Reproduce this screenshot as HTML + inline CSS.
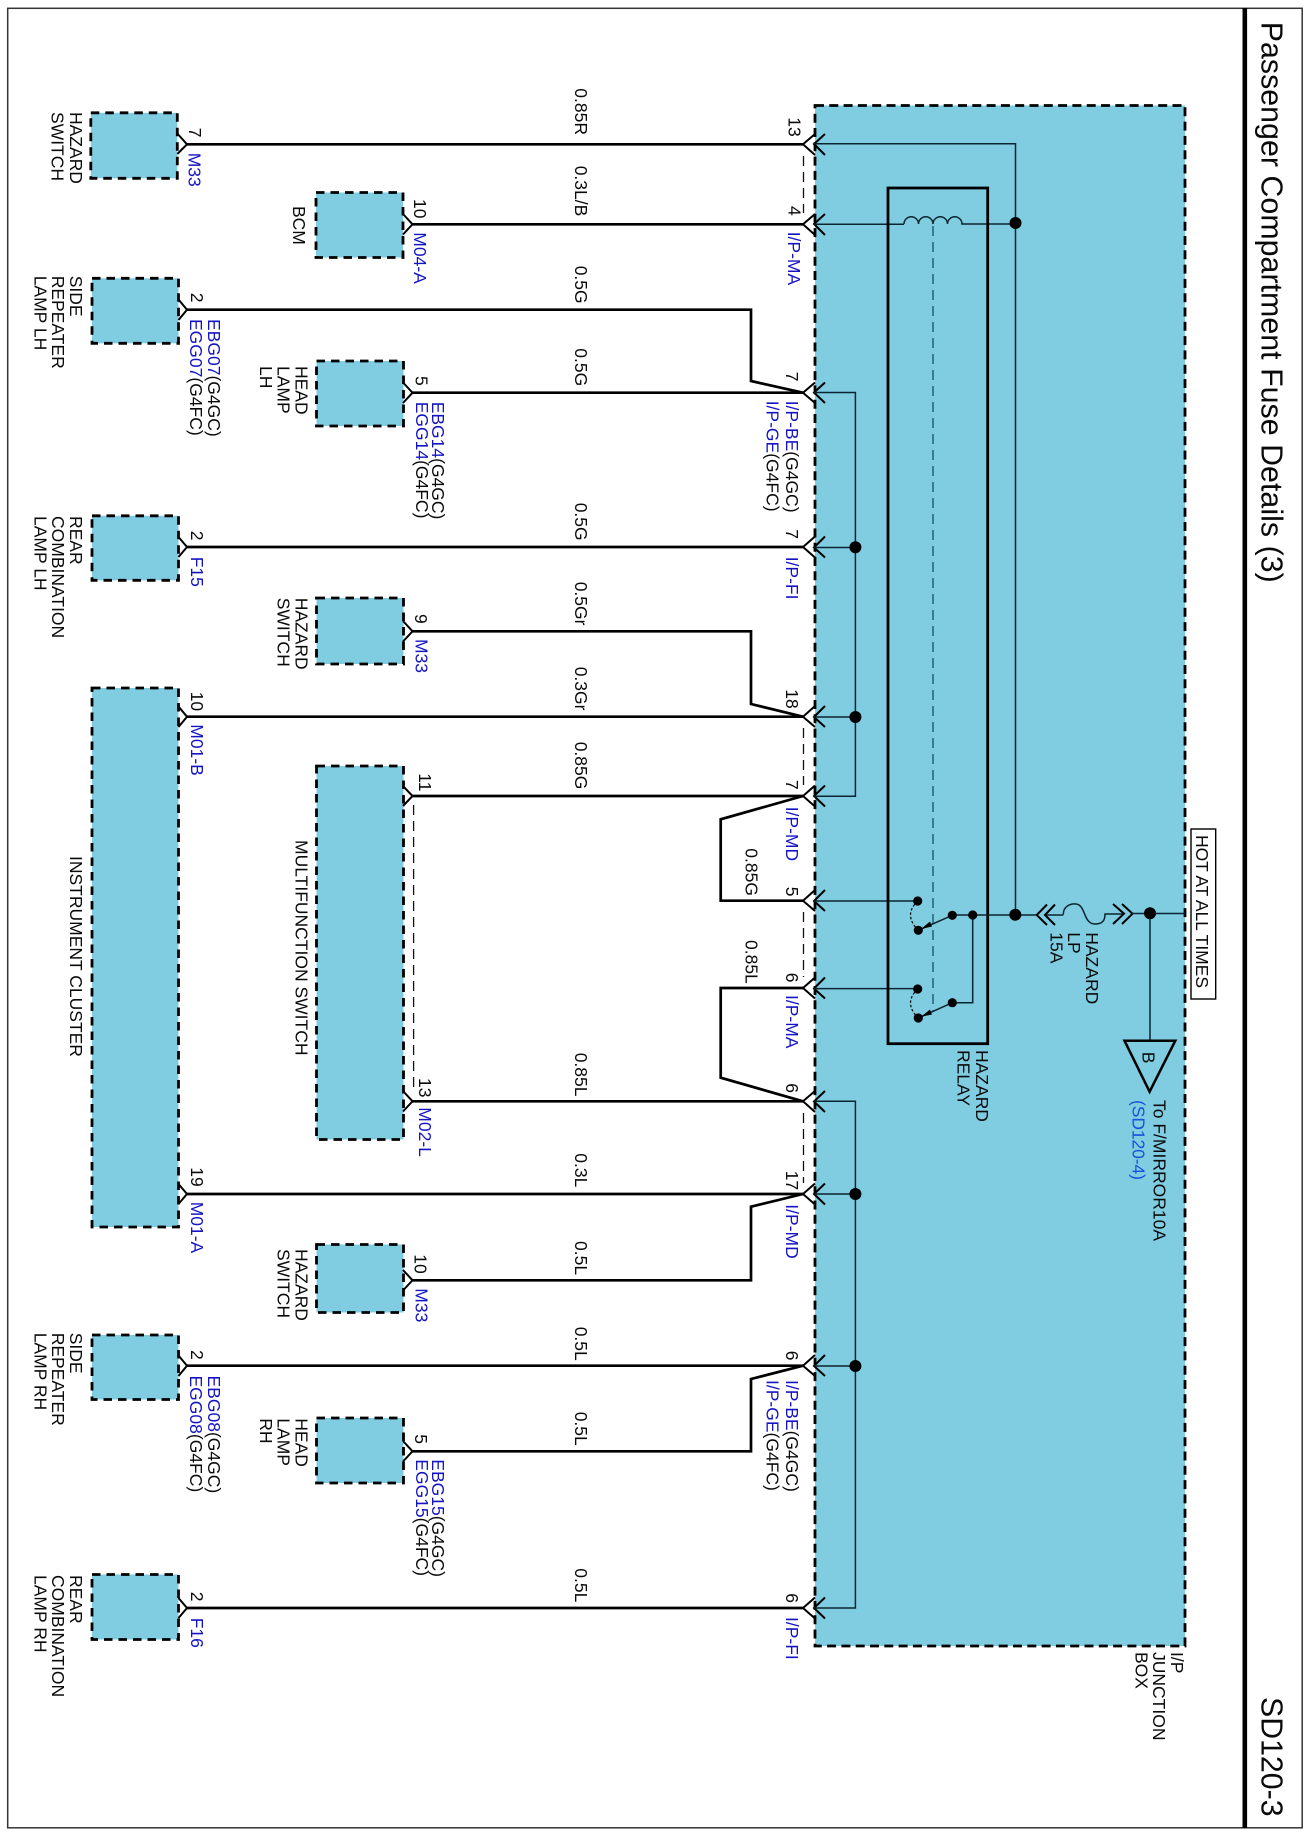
<!DOCTYPE html>
<html>
<head>
<meta charset="utf-8">
<style>
html,body{margin:0;padding:0;background:#fff}
svg{display:block}
text{font-family:"Liberation Sans",Arial,sans-serif;font-size:17.5px;fill:#0a0a0a}
.b{fill:#1414c4}
.c{fill:#1a4fd8}
.t{font-size:30.3px}
.box{fill:#80cde2;stroke:#000;stroke-width:2.8;stroke-dasharray:8.5 6}
.th{fill:none;stroke:#000;stroke-width:2.7;stroke-linejoin:miter}
.tn{fill:none;stroke:#0b2530;stroke-width:1.5}
.ch{fill:none;stroke:#000;stroke-width:2}
.ds{fill:none;stroke:#111;stroke-width:1.3;stroke-dasharray:10 6}
</style>
</head>
<body>
<svg width="1308" height="1836" viewBox="0 0 1308 1836" xmlns="http://www.w3.org/2000/svg">
<rect x="0" y="0" width="1308" height="1836" fill="#fff"/>
<rect x="7.7" y="8.3" width="1294.5" height="1819.5" fill="none" stroke="#333" stroke-width="1.5"/>
<rect x="1242.5" y="8" width="4.6" height="1820" fill="#000"/>

<!-- junction box -->
<rect x="815" y="105.5" width="370" height="1540.5" fill="#80cde2" stroke="#000" stroke-width="2.8" stroke-dasharray="9 5.3"/>

<!-- left components -->
<rect class="box" x="90.8" y="112.8" width="86.5" height="65.5"/>
<rect class="box" x="92" y="278.3" width="86.5" height="65"/>
<rect class="box" x="92" y="515.8" width="86.5" height="64.5"/>
<rect class="box" x="92" y="688" width="86.5" height="539"/>
<rect class="box" x="92" y="1335" width="86.5" height="64.5"/>
<rect class="box" x="92" y="1574.5" width="86.5" height="65"/>
<rect class="box" x="316" y="192.5" width="87" height="65"/>
<rect class="box" x="316.5" y="361" width="87" height="65"/>
<rect class="box" x="316.5" y="598" width="87" height="66"/>
<rect class="box" x="316.5" y="766" width="87" height="373.5"/>
<rect class="box" x="316.5" y="1244.5" width="87" height="68"/>
<rect class="box" x="316.5" y="1418" width="87" height="65"/>

<!-- thick wires -->
<path class="th" d="M187 144.3H803"/>
<path class="th" d="M412 224.3H803"/>
<path class="th" d="M187 309.7H751V381L803 392.7"/>
<path class="th" d="M412 392.7H803"/>
<path class="th" d="M187 547H803"/>
<path class="th" d="M412 631.3H751V704L803 716.7"/>
<path class="th" d="M187 716.7H803"/>
<path class="th" d="M412 796H803"/>
<path class="th" d="M803 796L720.7 819.3V900.7H803"/>
<path class="th" d="M803 988H720.7V1077.7L803 1101.3"/>
<path class="th" d="M412 1101.3H803"/>
<path class="th" d="M187 1194H803"/>
<path class="th" d="M412 1280.3H751V1206.7L803 1194"/>
<path class="th" d="M187 1365.7H803"/>
<path class="th" d="M412 1451.3H751V1379L803 1365.7"/>
<path class="th" d="M187 1608H803"/>

<!-- left chevrons -->
<path class="ch" d="M177.3 133.5L187 144.3L177.3 154"/>
<path class="ch" d="M178.5 299.5L187 309.7L178.5 320"/>
<path class="ch" d="M178.5 537L187 547L178.5 557"/>
<path class="ch" d="M178.5 706.5L187 716.7L178.5 727"/>
<path class="ch" d="M178.5 1184L187 1194L178.5 1204"/>
<path class="ch" d="M178.5 1355.5L187 1365.7L178.5 1376"/>
<path class="ch" d="M178.5 1598L187 1608L178.5 1618"/>
<path class="ch" d="M403 214L412.5 224.3L403 234.5"/>
<path class="ch" d="M403 382.5L412.5 392.7L403 403"/>
<path class="ch" d="M403 621L412.5 631.3L403 641.5"/>
<path class="ch" d="M403 786L412.5 796L403 806"/>
<path class="ch" d="M403 1091L412.5 1101.3L403 1111.5"/>
<path class="ch" d="M403 1270L412.5 1280.3L403 1290.5"/>
<path class="ch" d="M403 1441L412.5 1451.3L403 1461.5"/>

<!-- right chevrons: outer + inner -->
<path class="ch" d="M815 134L803 144.3L815 155M825 134L814 144L825 155"/>
<path class="ch" d="M815 214L803 224.3L815 235M825 214L814 224L825 235"/>
<path class="ch" d="M815 382.5L803 392.7L815 403M825 382.5L814 392.5L825 403"/>
<path class="ch" d="M815 536.5L803 547L815 557.5M825 536.5L814 547.5L825 557.5"/>
<path class="ch" d="M815 706L803 716.7L815 727M825 706L814 717L825 727"/>
<path class="ch" d="M815 785.5L803 796L815 806.5M825 785.5L814 796L825 806.5"/>
<path class="ch" d="M815 890L803 900.7L815 911M825 890L814 901L825 911"/>
<path class="ch" d="M815 977.5L803 988L815 998.5M825 977.5L814 988.5L825 998.5"/>
<path class="ch" d="M815 1091L803 1101.3L815 1112M825 1091L814 1101.5L825 1112"/>
<path class="ch" d="M815 1183.5L803 1194L815 1204.5M825 1183.5L814 1194L825 1204.5"/>
<path class="ch" d="M815 1355L803 1365.7L815 1376M825 1355L814 1366L825 1376"/>
<path class="ch" d="M815 1597.5L803 1608L815 1618.5M825 1597.5L814 1608L825 1618.5"/>

<!-- connector dashed links -->
<path class="ds" d="M803.5 156V213"/>
<path class="ds" d="M803.5 728V785"/>
<path class="ds" d="M803.5 912V977"/>
<path class="ds" d="M803.5 1113V1183"/>
<path class="ds" d="M413.6 805V1090"/>

<!-- inner thin wires -->
<path class="tn" d="M814 143.8H1015.5V915"/>
<path class="tn" d="M814 224.3H904"/>
<path class="tn" d="M904 224A7.25 7.25 0 0 1 918.5 224A7.25 7.25 0 0 1 933 224A7.25 7.25 0 0 1 947.5 224A7.25 7.25 0 0 1 962 224H1015.5"/>
<path class="tn" d="M814 392.5H855.4V796.3H814"/>
<path class="tn" d="M814 547.5H855.4"/>
<path class="tn" d="M814 717H855.4"/>
<path class="tn" d="M814 1101.3H855.4V1608H814"/>
<path class="tn" d="M814 1194H855.4"/>
<path class="tn" d="M814 1366H855.4"/>
<path class="tn" d="M814 901H917.7"/>
<path class="tn" d="M814 988.6H917.7"/>

<!-- relay -->
<rect x="888" y="188" width="99.7" height="855.7" fill="none" stroke="#000" stroke-width="2.8"/>
<path fill="none" stroke="#1c5a72" stroke-width="1.4" stroke-dasharray="10 6" d="M933 226V1012"/>

<!-- switches -->
<path class="tn" d="M952.3 915.3L918.3 930.3"/>
<path class="tn" d="M952.3 1002.7L918.3 1018"/>
<polygon points="921,929 930,921.5 932,926.5" fill="#000"/>
<polygon points="921,1016.8 930,1009.5 932,1014.5" fill="#000"/>
<path fill="none" stroke="#000" stroke-width="1.2" stroke-dasharray="2.5 2" d="M917.7 901Q903 915 918.3 930.3"/>
<path fill="none" stroke="#000" stroke-width="1.2" stroke-dasharray="2.5 2" d="M917.7 989Q903 1003 918.3 1018"/>
<path class="tn" d="M952.3 915H1036.7"/>
<path class="tn" d="M972.7 915V1002.7H952.3"/>
<path class="tn" d="M1045 915H1063.3"/>
<path class="ch" d="M1047 904.5L1036.7 915L1047 925M1055 904.5L1045 915L1055 925"/>
<path class="tn" d="M1063.3 914.7C1063 906 1071 903.5 1076 904C1086 905 1083 924 1095 924C1103 924 1105 920 1105 914H1124"/>
<path class="ch" d="M1113 904L1124 913.7L1113 924M1122 904L1132.5 913.7L1122 924"/>
<path class="tn" d="M1132 913.5H1185"/>
<path class="tn" d="M1150 913.5V1040.7"/>
<polygon points="1124.5,1040.7 1175.3,1040.7 1149.6,1091.7" fill="none" stroke="#000" stroke-width="2.5"/>

<!-- dots -->
<g fill="#000">
<circle cx="1015.5" cy="223" r="6"/>
<circle cx="855.4" cy="547.3" r="6"/>
<circle cx="855.4" cy="717" r="6"/>
<circle cx="855.4" cy="1194" r="6"/>
<circle cx="855.4" cy="1366" r="6"/>
<circle cx="1015.3" cy="914.7" r="6"/>
<circle cx="1150" cy="913.3" r="6"/>
<circle cx="917.7" cy="901" r="4.6"/>
<circle cx="918.3" cy="930.3" r="4.6"/>
<circle cx="952.3" cy="915.3" r="4.6"/>
<circle cx="972.7" cy="915" r="4.6"/>
<circle cx="917.7" cy="989" r="4.6"/>
<circle cx="918.3" cy="1018" r="4.6"/>
<circle cx="952.3" cy="1002.7" r="4.6"/>
</g>

<!-- HOT box -->
<rect x="1191" y="829" width="24.7" height="170" fill="#fff" stroke="#000" stroke-width="1.4"/>

<!-- all rotated text: x = screen y, y = -(screen x baseline) -->
<g transform="translate(1,0) rotate(90)">
<text class="t" x="21.7" y="-1260.7" textLength="561">Passenger Compartment Fuse Details (3)</text>
<text class="t" x="1697" y="-1260.7">SD120-3</text>

<text x="835" y="-1195" textLength="153">HOT AT ALL TIMES</text>
<text x="1652" y="-1170">I/P</text>
<text x="1652" y="-1152">JUNCTION</text>
<text x="1652" y="-1134.4">BOX</text>
<text x="1100" y="-1152.3">To F/MIRROR10A</text>
<text class="c" x="1100" y="-1131.5" textLength="80">(SD120-4)</text>
<text x="1050" y="-975">HAZARD</text>
<text x="1050" y="-956.5">RELAY</text>
<text x="932.3" y="-1085">HAZARD</text>
<text x="932.3" y="-1067">LP</text>
<text x="932.3" y="-1049.3">15A</text>
<text x="1051.7" y="-1141.5">B</text>

<!-- component names -->
<text x="112" y="-69">HAZARD</text><text x="112" y="-50.4">SWITCH</text>
<text x="206" y="-292">BCM</text>
<text x="275.7" y="-69">SIDE</text><text x="275.7" y="-50.9">REPEATER</text><text x="275.7" y="-33.4">LAMP LH</text>
<text x="366" y="-294.5">HEAD</text><text x="366" y="-276.6">LAMP</text><text x="366" y="-258.9">LH</text>
<text x="516" y="-69">REAR</text><text x="516" y="-50.9">COMBINATION</text><text x="516" y="-33.4">LAMP LH</text>
<text x="597.7" y="-294.5">HAZARD</text><text x="597.7" y="-276.6">SWITCH</text>
<text x="856" y="-69">INSTRUMENT CLUSTER</text>
<text x="840" y="-294.5">MULTIFUNCTION SWITCH</text>
<text x="1249" y="-294.5">HAZARD</text><text x="1249" y="-276.6">SWITCH</text>
<text x="1332.7" y="-69">SIDE</text><text x="1332.7" y="-50.9">REPEATER</text><text x="1332.7" y="-33.4">LAMP RH</text>
<text x="1418.3" y="-294.5">HEAD</text><text x="1418.3" y="-276.6">LAMP</text><text x="1418.3" y="-258.9">RH</text>
<text x="1575" y="-69">REAR</text><text x="1575" y="-50.9">COMBINATION</text><text x="1575" y="-33.4">LAMP RH</text>

<!-- wire labels -->
<text x="88.3" y="-574">0.85R</text>
<text x="165.7" y="-574">0.3L/B</text>
<text x="265.7" y="-574">0.5G</text>
<text x="348.3" y="-574">0.5G</text>
<text x="502.7" y="-574">0.5G</text>
<text x="581.7" y="-574">0.5Gr</text>
<text x="666.7" y="-574">0.3Gr</text>
<text x="741.7" y="-574">0.85G</text>
<text x="1052.7" y="-574">0.85L</text>
<text x="1153.3" y="-574">0.3L</text>
<text x="1241" y="-574">0.5L</text>
<text x="1326.7" y="-574">0.5L</text>
<text x="1411.7" y="-574">0.5L</text>
<text x="1568.3" y="-574">0.5L</text>
<text x="848.3" y="-744.5">0.85G</text>
<text x="940" y="-744.5">0.85L</text>

<!-- left pins -->
<text x="127.7" y="-188">7</text>
<text x="199" y="-413">10</text>
<text x="292.7" y="-190">2</text>
<text x="376" y="-414.5">5</text>
<text x="530.7" y="-190">2</text>
<text x="614" y="-414">9</text>
<text x="691.7" y="-190">10</text>
<text x="773.3" y="-418">11</text>
<text x="1078" y="-418">13</text>
<text x="1167.3" y="-190">19</text>
<text x="1254.3" y="-413.5">10</text>
<text x="1350" y="-190">2</text>
<text x="1434.3" y="-414">5</text>
<text x="1591.7" y="-190">2</text>

<!-- right pins -->
<text x="117.3" y="-787.3">13</text>
<text x="206" y="-787.3">4</text>
<text x="371.7" y="-785">7</text>
<text x="529.3" y="-785">7</text>
<text x="689.3" y="-785">18</text>
<text x="780" y="-785">7</text>
<text x="886.7" y="-785">5</text>
<text x="972.7" y="-785">6</text>
<text x="1083.3" y="-785">6</text>
<text x="1170.7" y="-785">17</text>
<text x="1350.7" y="-785">6</text>
<text x="1593.3" y="-785">6</text>

<!-- connector ids left -->
<text class="b" x="152.7" y="-187.5">M33</text>
<text class="b" x="232.3" y="-413">M04-A</text>
<text x="319" y="-207.2"><tspan class="b">EBG07</tspan>(G4GC)</text>
<text x="319" y="-189"><tspan class="b">EGG07</tspan>(G4FC)</text>
<text x="401.7" y="-430.8"><tspan class="b">EBG14</tspan>(G4GC)</text>
<text x="401.7" y="-415"><tspan class="b">EGG14</tspan>(G4FC)</text>
<text class="b" x="556.7" y="-190">F15</text>
<text class="b" x="639" y="-414.5">M33</text>
<text class="b" x="724.3" y="-190">M01-B</text>
<text class="b" x="1107.3" y="-418">M02-L</text>
<text class="b" x="1201.7" y="-190">M01-A</text>
<text class="b" x="1288.3" y="-414.5">M33</text>
<text x="1375.5" y="-207.2"><tspan class="b">EBG08</tspan>(G4GC)</text>
<text x="1375.5" y="-189"><tspan class="b">EGG08</tspan>(G4FC)</text>
<text x="1459.3" y="-430.8"><tspan class="b">EBG15</tspan>(G4GC)</text>
<text x="1459.3" y="-415"><tspan class="b">EGG15</tspan>(G4FC)</text>
<text class="b" x="1617.7" y="-190">F16</text>

<!-- connector ids right -->
<text class="b" x="231.7" y="-787">I/P-MA</text>
<text x="400.7" y="-785"><tspan class="b">I/P-BE</tspan>(G4GC)</text>
<text x="400.7" y="-765.5"><tspan class="b">I/P-GE</tspan>(G4FC)</text>
<text class="b" x="556.7" y="-785">I/P-FI</text>
<text class="b" x="806.7" y="-785">I/P-MD</text>
<text class="b" x="995" y="-785">I/P-MA</text>
<text class="b" x="1204.3" y="-785">I/P-MD</text>
<text x="1380" y="-785"><tspan class="b">I/P-BE</tspan>(G4GC)</text>
<text x="1380" y="-765.5"><tspan class="b">I/P-GE</tspan>(G4FC)</text>
<text class="b" x="1617" y="-785">I/P-FI</text>
</g>
</svg>
</body>
</html>
